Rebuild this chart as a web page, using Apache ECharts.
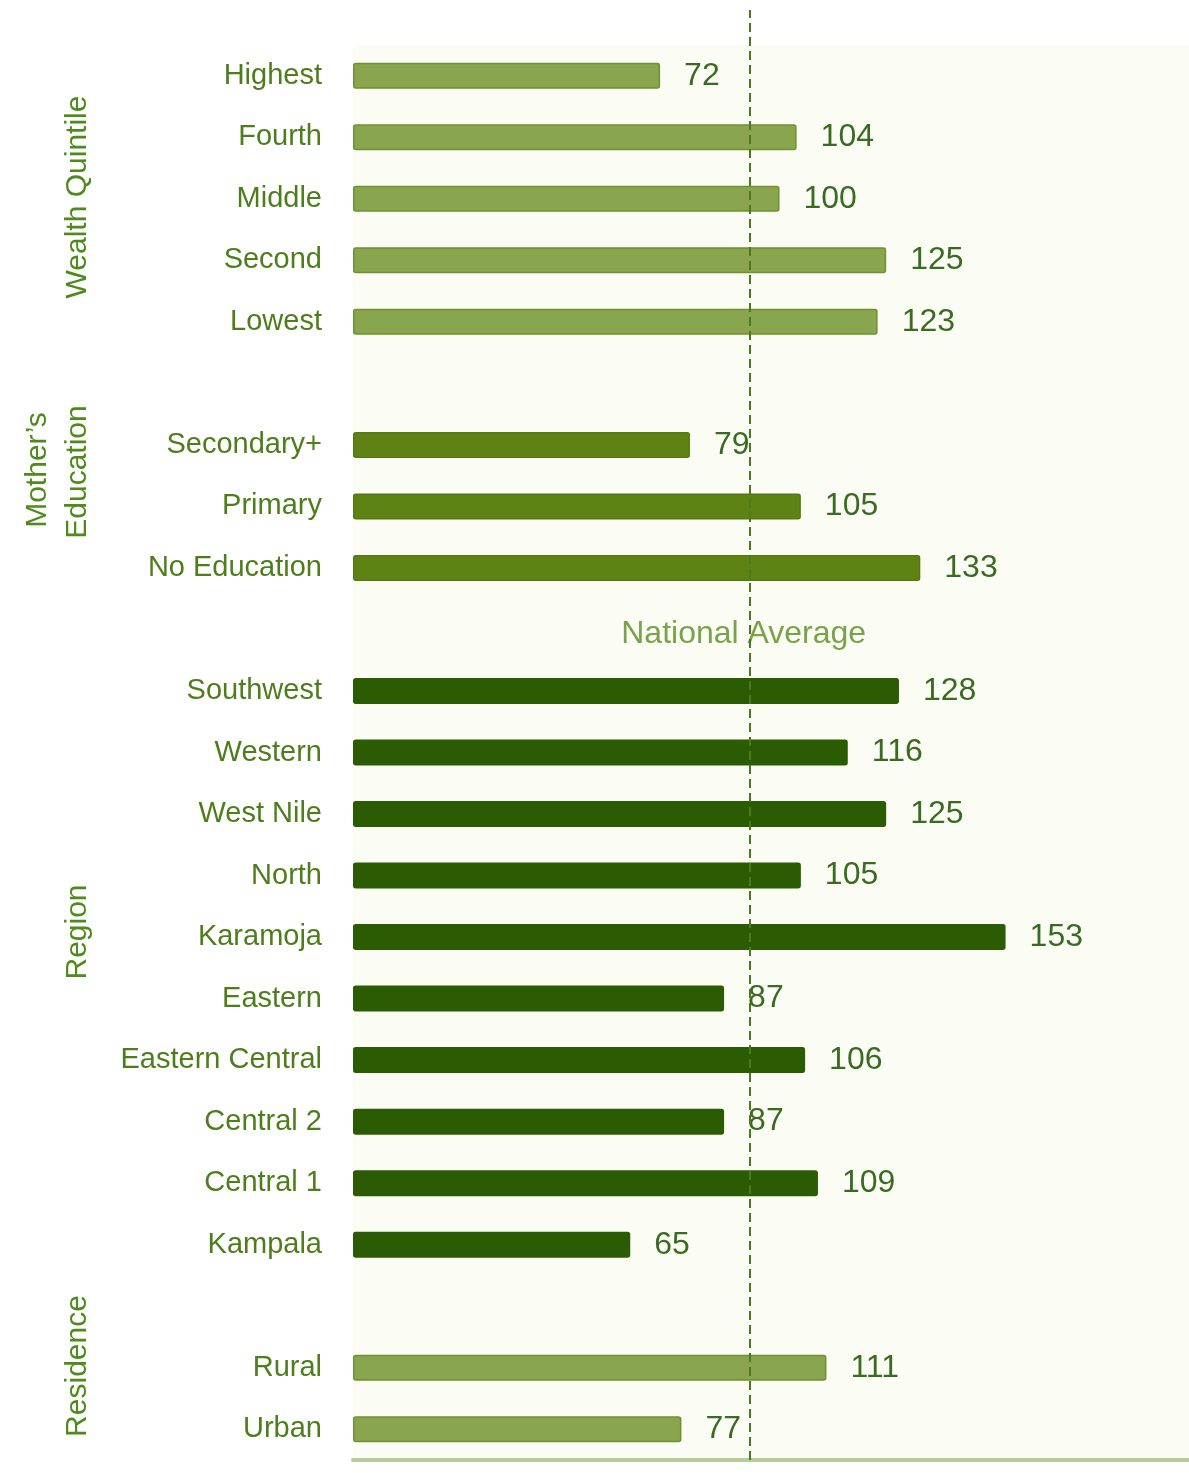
<!DOCTYPE html>
<html>
<head>
<meta charset="utf-8">
<script src="https://cdn.jsdelivr.net/npm/echarts@6/dist/echarts.min.js"></script>
<style>
  html, body { margin: 0; padding: 0; background: #ffffff; }
  #chart { width: 1189px; height: 1473px; }
</style>
</head>
<body>
<div id="chart"></div>
<script>
// categories top to bottom, blank rows separate the groups
const categories = [
  'Highest', 'Fourth', 'Middle', 'Second', 'Lowest', ' ',
  'Secondary+', 'Primary', 'No Education', '  ',
  'Southwest', 'Western', 'West Nile', 'North', 'Karamoja', 'Eastern',
  'Eastern Central', 'Central 2', 'Central 1', 'Kampala', '   ',
  'Rural', 'Urban'
];
const values = [
  72, 104, 100, 125, 123, '-',
  79, 105, 133, '-',
  128, 116, 125, 105, 153, 87, 106, 87, 109, 65, '-',
  111, 77
];
// 0 wealth, 1 education, 2 region, 3 residence
const groupOf = [
  0, 0, 0, 0, 0, -1,
  1, 1, 1, -1,
  2, 2, 2, 2, 2, 2, 2, 2, 2, 2, -1,
  3, 3
];
const nationalAverage = 93;

const fillColors = ['#89a64f', '#5e8213', '#2b5b03', '#89a64f'];
const borderColors = ['#6e9131', '#557a10', '#2b5b03', '#6e9131'];

const textGreen = '#4e7d1c';
const valueGreen = '#3b6a22';

var myChart = echarts.init(document.getElementById('chart'));

const barData = values.map((v, i) => {
  const g = groupOf[i];
  if (g < 0) return '-';
  return {
    value: v,
    itemStyle: { color: fillColors[g], borderColor: borderColors[g], borderWidth: 1.5, borderRadius: 2 }
  };
});

function groupLabel(text, x, y) {
  return {
    type: 'text',
    x: x, y: y,
    rotation: Math.PI / 2,
    style: {
      text: text,
      fill: '#4f8a1c',
      font: '30px "Liberation Sans", Arial, sans-serif',
      textAlign: 'center',
      textVerticalAlign: 'middle'
    }
  };
}

let option = {
  animation: false,
  backgroundColor: '#ffffff',
  grid: [
    { left: 353, right: 0, top: 45, bottom: 13, show: true, backgroundColor: '#fbfdf4', borderWidth: 0 },
    { left: 353, right: 0, top: 10, bottom: 13, show: false }
  ],
  xAxis: [
    {
      type: 'value', gridIndex: 0, min: 0, max: 196,
      axisLine: { show: true, lineStyle: { color: '#b7cc9c', width: 4 } },
      axisTick: { show: false }, axisLabel: { show: false }, splitLine: { show: false }
    },
    {
      type: 'value', gridIndex: 1, min: 0, max: 196, show: false
    }
  ],
  yAxis: [
    {
      type: 'category', gridIndex: 0, data: categories, inverse: true,
      axisLine: { show: false }, axisTick: { show: false },
      axisLabel: {
        color: textGreen, fontSize: 29, margin: 31,
        fontFamily: '"Liberation Sans", Arial, sans-serif'
      }
    },
    { type: 'value', gridIndex: 1, min: 0, max: 1, show: false }
  ],
  series: [
    {
      type: 'bar',
      xAxisIndex: 0, yAxisIndex: 0,
      data: barData,
      barWidth: 26,
      label: {
        show: true, position: 'right', distance: 24,
        color: valueGreen, fontSize: 32,
        fontFamily: '"Liberation Sans", Arial, sans-serif'
      }
    },
    {
      // national average label sits on the blank row above the regions
      type: 'scatter',
      xAxisIndex: 0, yAxisIndex: 0,
      symbolSize: 0,
      data: [[nationalAverage, 9]],
      label: {
        show: true, position: 'inside', formatter: 'National Average',
        offset: [-6, 5],
        color: '#5a8b1e', fontSize: 32,
        fontFamily: '"Liberation Sans", Arial, sans-serif'
      },
      silent: true
    },
    {
      type: 'line',
      xAxisIndex: 1, yAxisIndex: 1,
      data: [],
      markLine: {
        silent: true, symbol: 'none', label: { show: false },
        lineStyle: { color: '#4a7a1c', type: [9, 5], width: 2 },
        data: [{ xAxis: nationalAverage }]
      }
    }
  ],
  graphic: [
    groupLabel('Wealth Quintile', 78, 197),
    groupLabel('Mother\u2019s', 38, 470),
    groupLabel('Education', 78, 472),
    groupLabel('Region', 78, 932),
    groupLabel('Residence', 78, 1366)
  ]
};

myChart.setOption(option);
</script>
</body>
</html>
